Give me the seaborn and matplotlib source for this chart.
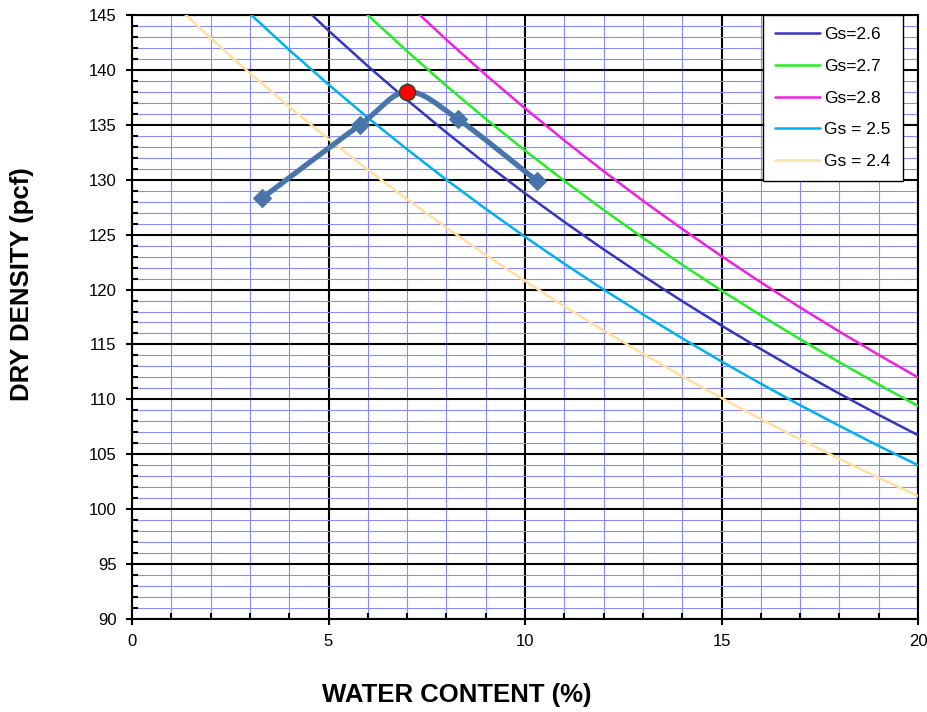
import numpy as np
import pandas as pd
import matplotlib
matplotlib.use("Agg")
import matplotlib.pyplot as plt
from matplotlib.path import Path
from matplotlib.patches import PathPatch
from matplotlib.ticker import MultipleLocator
import seaborn as sns

# ---------------- data ----------------
w_zav = list(range(0, 21))
zav_26 = [162.24, 158.13, 154.22, 150.50, 146.96, 143.58, 140.35, 137.26, 134.30, 131.47,
          128.76, 126.16, 123.66, 121.26, 118.94, 116.72, 114.58, 112.51, 110.52, 108.59, 106.74]
zav_27 = [168.48, 164.05, 159.85, 155.86, 152.06, 148.44, 144.99, 141.70, 138.55, 135.54,
          132.66, 129.90, 127.25, 124.71, 122.26, 119.91, 117.65, 115.48, 113.38, 111.35, 109.40]
zav_28 = [174.72, 169.96, 165.45, 161.18, 157.12, 153.26, 149.59, 146.09, 142.75, 139.55,
          136.50, 133.58, 130.78, 128.09, 125.52, 123.04, 120.66, 118.37, 116.17, 114.05, 112.00]
zav_25 = [156.00, 152.20, 148.57, 145.12, 141.82, 138.67, 135.65, 132.77, 130.00, 127.35,
          124.80, 122.35, 120.00, 117.74, 115.56, 113.45, 111.43, 109.47, 107.59, 105.76, 104.00]
zav_24 = [149.76, 146.25, 142.90, 139.70, 136.64, 133.71, 130.91, 128.22, 125.64, 123.16,
          120.77, 118.48, 116.27, 114.15, 112.10, 110.12, 108.21, 106.36, 104.58, 102.86, 101.19]

w_test = [3.3, 5.8, 7.0, 8.3, 10.3]
dd_test = [128.3, 135.0, 138.0, 135.5, 129.9]
w_max = [7.0]
dd_max = [138.0]

series = [("Gs=2.6", zav_26, "#3535C0"),
          ("Gs=2.7", zav_27, "#22EE22"),
          ("Gs=2.8", zav_28, "#F020E0"),
          ("Gs = 2.5", zav_25, "#00B0F0"),
          ("Gs = 2.4", zav_24, "#FFE0A0")]

# ---------------- figure ----------------
sns.set_style("white")
plt.rcParams["font.family"] = ["Liberation Sans", "DejaVu Sans"]
plt.rcParams["text.color"] = "black"
plt.rcParams["xtick.color"] = "black"
plt.rcParams["ytick.color"] = "black"

fig = plt.figure(figsize=(9.27, 7.12), dpi=100)
ax = fig.add_axes([132/927, 1-619/712, (918-132)/927, (619-15)/712])

for label, vals, col in series:
    sns.lineplot(x=w_zav, y=vals, color=col, lw=1.8, label=label, ax=ax, zorder=3)

# smoothed compaction curve (Bezier through the data points)
pts = np.column_stack([w_test, dd_test])
n = len(pts)
verts = [tuple(pts[0])]
codes = [Path.MOVETO]
for i in range(n - 1):
    p0 = pts[max(i - 1, 0)]
    p1 = pts[i]
    p2 = pts[i + 1]
    p3 = pts[min(i + 2, n - 1)]
    c1 = p1 + (p2 - p0) / 6.0
    c2 = p2 - (p3 - p1) / 6.0
    verts += [tuple(c1), tuple(c2), tuple(p2)]
    codes += [Path.CURVE4] * 3
ax.add_patch(PathPatch(Path(verts, codes), fill=False, edgecolor="#4774AA",
                       lw=3.8, capstyle="round", joinstyle="round", zorder=4))

sns.scatterplot(x=w_test, y=dd_test, marker="D", s=85, color="#4774AA",
                edgecolor="#4774AA", ax=ax, zorder=5, legend=False)
sns.scatterplot(x=w_max, y=dd_max, marker="o", s=135, color="#FF0000",
                edgecolor="#1F4A1F", linewidth=1, ax=ax, zorder=6, legend=False)

ax.set_xlim(0, 20)
ax.set_ylim(90, 145)
ax.xaxis.set_major_locator(MultipleLocator(5))
ax.xaxis.set_minor_locator(MultipleLocator(1))
ax.yaxis.set_major_locator(MultipleLocator(5))
ax.yaxis.set_minor_locator(MultipleLocator(1))

ax.grid(which="minor", color="#8A8AFF", lw=0.8, zorder=1)
ax.grid(which="major", color="black", lw=1.5, zorder=2)
ax.set_axisbelow(True)

for s in ax.spines.values():
    s.set_color("black")
    s.set_linewidth(1.5)
    s.set_visible(True)

ax.tick_params(which="major", direction="out", length=4, width=1.5, color="black",
               labelsize=12, labelcolor="black", pad=7, bottom=True, left=True)
ax.tick_params(which="minor", direction="in", length=4, width=1.5, color="black",
               bottom=True, left=True, top=False, right=False)

ax.set_xlabel("")
ax.set_ylabel("")
fig.text(457/927, 1-695/712, "WATER CONTENT (%)", fontsize=18.5, fontweight="bold",
         ha="center", va="center", color="black")
fig.text(22/927, 1-284/712, "DRY DENSITY (pcf)", fontsize=18.5, fontweight="bold",
         ha="center", va="center", rotation=90, color="black")

leg = ax.legend(loc="upper right", borderaxespad=0,
                frameon=True, fancybox=False, fontsize=12.5, handlelength=2.6,
                labelspacing=0.95, borderpad=0.7, handletextpad=0.25)
leg.set_bbox_to_anchor((903/927, 1-15/712), transform=fig.transFigure)
leg.get_frame().set_edgecolor("black")
leg.get_frame().set_linewidth(1.0)
leg.get_frame().set_facecolor("white")
leg.get_frame().set_alpha(1)
leg.set_zorder(10)

fig.savefig("out.png", dpi=100)
